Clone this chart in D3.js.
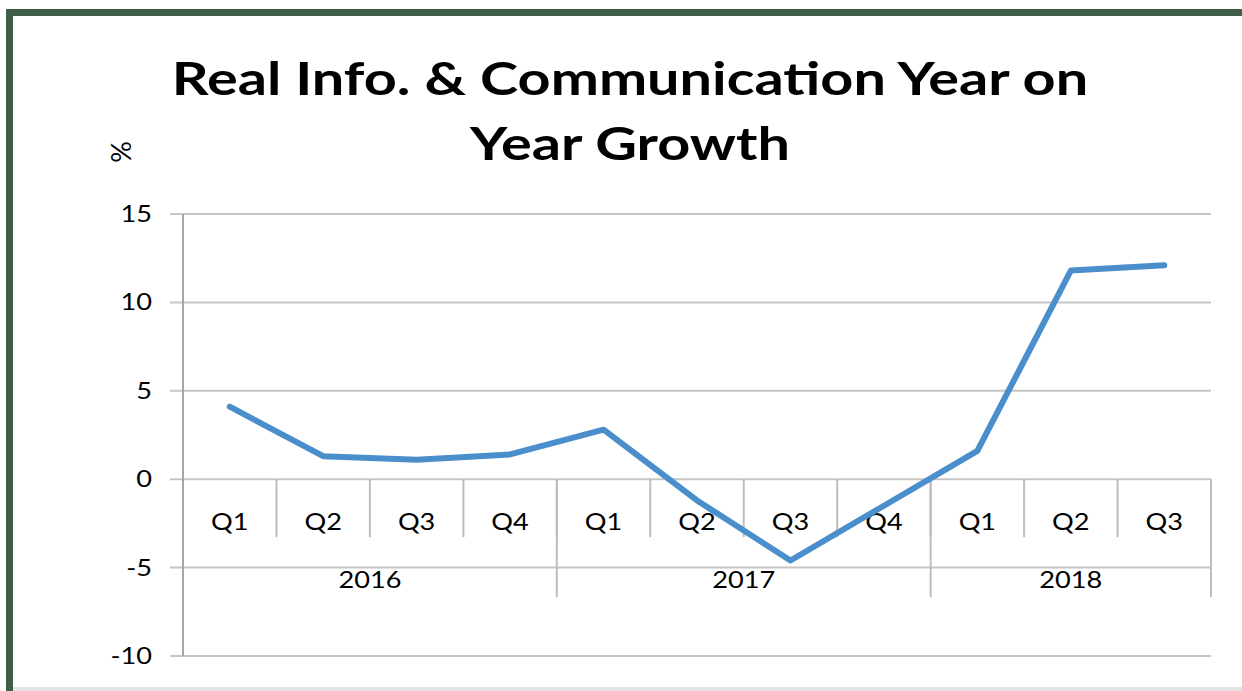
<!DOCTYPE html>
<html><head><meta charset="utf-8">
<script src="https://cdn.jsdelivr.net/npm/d3@7"></script>
<style>html,body{margin:0;padding:0;background:#fff;}svg{display:block;}</style>
</head><body>
<svg id="c" width="1242" height="691"></svg>
<script>
const quarters = ["Q1","Q2","Q3","Q4","Q1","Q2","Q3","Q4","Q1","Q2","Q3"];
const years = [{label:"2016", n:4},{label:"2017", n:4},{label:"2018", n:3}];
const values = [4.1, 1.3, 1.1, 1.4, 2.8, -1.2, -4.6, -1.5, 1.6, 11.8, 12.1];
const yTicks = [15, 10, 5, 0, -5, -10];
const titleLines = ["Real Info. & Communication Year on", "Year Growth"];

const svg = d3.select("#c");
const W = 1242, H = 691;
const F = "Lato, 'Open Sans', sans-serif";
const SX = 1.18;

// frame
svg.append("rect").attr("x",0).attr("y",0).attr("width",W).attr("height",H).attr("fill","#fff");
svg.append("rect").attr("x",6).attr("y",9).attr("width",W).attr("height",7).attr("fill","#3e5e48");
svg.append("rect").attr("x",6).attr("y",9).attr("width",7).attr("height",H).attr("fill","#3e5e48");
svg.append("rect").attr("x",13).attr("y",687).attr("width",W).attr("height",4).attr("fill","#e4e4e4");

const L = 183, R = 1211, T = 214, B = 656;
const x = d3.scaleBand().domain(d3.range(values.length)).range([L, R]).padding(0);
const y = d3.scaleLinear().domain([-10, 15]).range([B, T]);

// gridlines
svg.append("g").selectAll("line").data(yTicks).join("line")
  .attr("x1", L-13).attr("x2", R).attr("y1", d=>y(d)).attr("y2", d=>y(d))
  .attr("stroke", "#c6c6c6").attr("stroke-width", 2);

// y axis line
svg.append("line").attr("x1",L).attr("x2",L).attr("y1",T).attr("y2",B)
  .attr("stroke","#a6a6a6").attr("stroke-width",2);

function txt(g, data, fx, fy, anchor, size, weight, sx, fmt) {
  return g.selectAll("text").data(data).join("text")
    .attr("transform", (d,i)=>`translate(${fx(d,i)},${fy(d,i)}) scale(${sx},1)`)
    .attr("text-anchor", anchor).attr("font-family", F).attr("font-size", size)
    .attr("font-weight", weight).attr("fill", "#000").text(fmt);
}

// y tick labels
txt(svg.append("g"), yTicks, ()=>152, d=>y(d)+8, "end", 23, "normal", SX, d=>d);

// category axis separators
const y0 = y(0);
const qSep = d3.range(1, values.length).map(i => x(i));
svg.append("g").selectAll("line").data(qSep).join("line")
  .attr("x1", d=>d).attr("x2", d=>d).attr("y1", y0).attr("y2", y0+58)
  .attr("stroke","#bdbdbd").attr("stroke-width",2);
let cum = 0;
const yearSep = [];
const yearCenters = [];
years.forEach(g => { const s = x(cum); cum += g.n; const e = cum < values.length ? x(cum) : R; yearCenters.push((s+e)/2); yearSep.push(e); });
svg.append("g").selectAll("line").data(yearSep).join("line")
  .attr("x1", d=>d).attr("x2", d=>d).attr("y1", y0).attr("y2", y0+118)
  .attr("stroke","#bdbdbd").attr("stroke-width",2);

// quarter + year labels
txt(svg.append("g"), quarters, (d,i)=>x(i)+x.bandwidth()/2, ()=>y0+51, "middle", 23, "normal", SX, d=>d);
txt(svg.append("g"), years, (d,i)=>yearCenters[i], ()=>y0+109, "middle", 23, "normal", SX, d=>d.label);

// line
const line = d3.line().x((d,i)=>x(i)+x.bandwidth()/2).y(d=>y(d));
svg.append("path").datum(values).attr("d", line)
  .attr("fill","none").attr("stroke","#4a8fcc").attr("stroke-width",6)
  .attr("stroke-linejoin","round").attr("stroke-linecap","round");

// title
txt(svg.append("g"), titleLines, ()=>630, (d,i)=>95 + i*65, "middle", 45, "bold", 1.28, d=>d);

// y unit label
svg.append("text").attr("transform","translate(131,152) rotate(-90)")
  .attr("text-anchor","middle").attr("font-family",F).attr("font-size",27).attr("fill","#000").text("%");
</script>
</body></html>
